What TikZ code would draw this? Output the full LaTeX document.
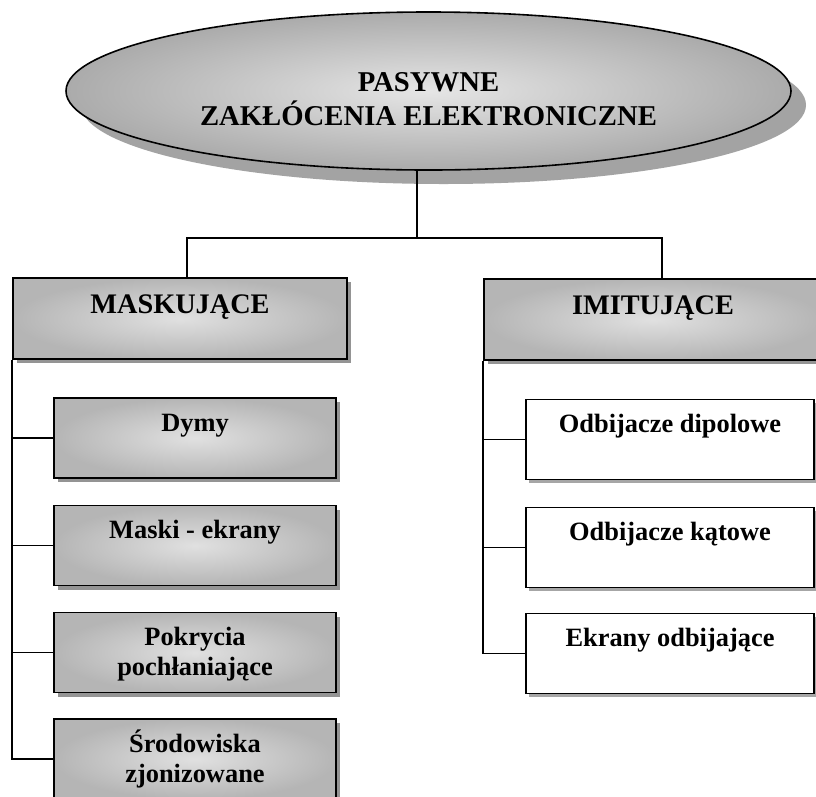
\documentclass[tikz,border=0pt]{standalone}
\usepackage{fontspec}
\setmainfont{Liberation Serif}
\usetikzlibrary{shapes.geometric,shadows}
\tikzset{
  graybox/.style={draw=black, line width=1.8pt, inner sep=0pt,
    inner color=black!12, outer color=black!29,
    general shadow={fill=black!42, shadow xshift=4pt, shadow yshift=-4pt}},
  whitebox/.style={draw=black, line width=1.8pt, inner sep=0pt, fill=white,
    general shadow={fill=black!35, shadow xshift=3pt, shadow yshift=-3pt}},
  headbox/.style={minimum height=81pt, text height=35pt, text depth=46pt,
    font=\bfseries\fontsize{28.3}{32}\selectfont},
  subbox/.style={text height=33pt, text depth=47pt,
    font=\bfseries\fontsize{26.4}{30}\selectfont},
  conn/.style={draw=black, line width=1.5pt}
}
\begin{document}
\begin{tikzpicture}[x=1pt,y=-1pt]
\useasboundingbox[fill=white] (0,0) rectangle (816,796);

% title ellipse
\node[ellipse, draw=black, line width=1.6pt, inner sep=0pt,
      minimum width=725pt, minimum height=158pt,
      inner color=black!10, outer color=black!33,
      general shadow={fill=black!36, shadow xshift=15pt, shadow yshift=-14pt},
      text height=23pt, text depth=23pt,
      font=\bfseries\fontsize{28.7}{32}\selectfont]
  (top) at (428.5,91) {\begin{tabular}[t]{@{}c@{}}PASYWNE\\ZAKŁÓCENIA ELEKTRONICZNE\end{tabular}};

% header boxes
\node[graybox, headbox, minimum width=334pt] (mask) at (180,318.5) {MASKUJĄCE};
\node[graybox, headbox, minimum width=338pt] (imit) at (653,319.5) {IMITUJĄCE};

% left column
\node[graybox, subbox, minimum width=282pt] (dymy) at (195,438) {Dymy};
\node[graybox, subbox, minimum width=282pt] (maski) at (195,545.5) {Maski - ekrany};
\node[graybox, subbox, minimum width=282pt] (pokr) at (195,652.5)
  {\begin{tabular}[t]{@{}c@{}}Pokrycia\\pochłaniające\end{tabular}};
\node[graybox, subbox, minimum width=282pt] (srod) at (195,759)
  {\begin{tabular}[t]{@{}c@{}}Środowiska\\zjonizowane\end{tabular}};

% right column
\node[whitebox, subbox, minimum width=288pt] (odb1) at (670,439.5) {Odbijacze dipolowe};
\node[whitebox, subbox, minimum width=288pt] (odb2) at (670,547.5) {Odbijacze kątowe};
\node[whitebox, subbox, minimum width=288pt] (ekr) at (670,653.5) {Ekrany odbijające};

% connectors
\coordinate (jc) at (417,238);
\coordinate (jl) at (187,238);
\coordinate (jr) at (662,238);
\draw[conn] (jc |- top.south) -- (jc);
\draw[conn] (jl |- mask.north) -- (jl) -- (jr) -- (jr |- imit.north);

\draw[conn] (mask.south west) |- (srod.west);
\draw[conn] (mask.south west |- dymy.west) -- (dymy.west);
\draw[conn] (mask.south west |- maski.west) -- (maski.west);
\draw[conn] (mask.south west |- pokr.west) -- (pokr.west);

\draw[conn] (imit.south west) |- (ekr.west);
\draw[conn] (imit.south west |- odb1.west) -- (odb1.west);
\draw[conn] (imit.south west |- odb2.west) -- (odb2.west);
\end{tikzpicture}
\end{document}
